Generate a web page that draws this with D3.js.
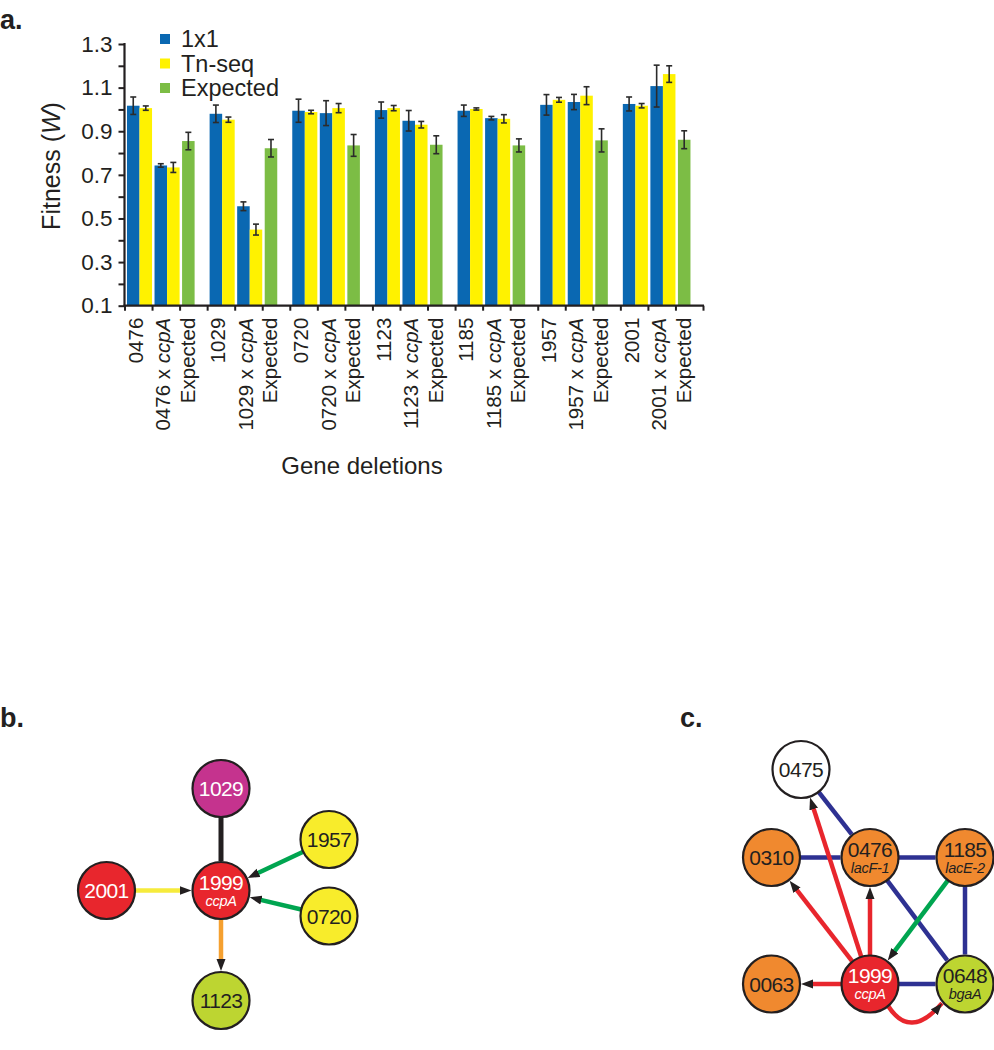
<!DOCTYPE html>
<html>
<head>
<meta charset="utf-8">
<script src="https://cdn.jsdelivr.net/npm/d3@7"></script>
<style>
  html, body { margin: 0; padding: 0; background: #fff; }
  svg { display: block; }
  text { font-family: "Liberation Sans", Arial, Helvetica, sans-serif; fill: #231f20; }
</style>
</head>
<body>
<svg id="chart" width="994" height="1050"></svg>
<script>
// ---------------- DATA ----------------
const genes = ["0476", "1029", "0720", "1123", "1185", "1957", "2001"];
const seriesNames = ["1x1", "Tn-seq", "Expected"];
const yTickLabels = ["0.1", "0.3", "0.5", "0.7", "0.9", "1.1", "1.3"];

const single1x1    = [1.017, 0.980, 0.994, 0.997, 0.994, 1.021, 1.025];
const single1x1Err = [0.040, 0.040, 0.053, 0.037, 0.026, 0.047, 0.032];
const singleTn     = [1.006, 0.953, 0.988, 1.006, 1.002, 1.044, 1.017];
const singleTnErr  = [0.010, 0.012, 0.008, 0.012, 0.005, 0.011, 0.010];
const double1x1    = [0.743, 0.556, 0.983, 0.948, 0.960, 1.034, 1.107];
const double1x1Err = [0.008, 0.020, 0.057, 0.047, 0.008, 0.035, 0.096];
const doubleTn     = [0.734, 0.449, 1.006, 0.930, 0.957, 1.063, 1.162];
const doubleTnErr  = [0.023, 0.025, 0.021, 0.015, 0.019, 0.041, 0.038];
const expected     = [0.855, 0.822, 0.835, 0.838, 0.835, 0.858, 0.861];
const expectedErr  = [0.040, 0.040, 0.050, 0.041, 0.030, 0.053, 0.041];

// network b
const nodesB = [
  {id: "1029", gene: "", type: "magenta"},
  {id: "1999", gene: "ccpA", type: "red"},
  {id: "2001", gene: "", type: "red"},
  {id: "1957", gene: "", type: "yellow"},
  {id: "0720", gene: "", type: "yellow"},
  {id: "1123", gene: "", type: "lime"}
];
const edgesB = [
  {s: "1029", t: "1999", type: "black", arrow: false},
  {s: "2001", t: "1999", type: "yellow", arrow: true},
  {s: "1957", t: "1999", type: "green", arrow: true},
  {s: "0720", t: "1999", type: "green", arrow: true},
  {s: "1999", t: "1123", type: "orange", arrow: true}
];
// network c
const nodesC = [
  {id: "0475", gene: "", type: "white"},
  {id: "0310", gene: "", type: "orange"},
  {id: "0476", gene: "lacF-1", type: "orange"},
  {id: "1185", gene: "lacE-2", type: "orange"},
  {id: "0063", gene: "", type: "orange"},
  {id: "1999", gene: "ccpA", type: "red"},
  {id: "0648", gene: "bgaA", type: "lime"}
];
const edgesC = [
  {s: "0475", t: "0476", type: "blue", arrow: false},
  {s: "0310", t: "0476", type: "blue", arrow: false},
  {s: "0476", t: "1185", type: "blue", arrow: false},
  {s: "0476", t: "0648", type: "blue", arrow: false},
  {s: "1185", t: "0648", type: "blue", arrow: false},
  {s: "1999", t: "0648", type: "blue", arrow: false},
  {s: "1999", t: "0475", type: "red", arrow: true},
  {s: "1999", t: "0310", type: "red", arrow: true},
  {s: "1999", t: "0476", type: "red", arrow: true},
  {s: "1999", t: "0063", type: "red", arrow: true},
  {s: "1185", t: "1999", type: "green", arrow: true},
  {s: "1999", t: "0648", type: "red", arrow: true, curved: true}
];

// ---------------- STYLES / LAYOUT ----------------
const FONT = '"Liberation Sans", Arial, Helvetica, sans-serif';
const INK = "#231f20";
const barColors = {"1x1": "#0a68b2", "Tn-seq": "#fff200", "Expected": "#7cbd45"};
const nodeFill = {magenta: "#c5338e", red: "#e8262d", yellow: "#f8ec2b", lime: "#bdd531",
                  orange: "#f0892f", white: "#ffffff"};
const nodeText = {magenta: "#fff", red: "#fff", yellow: INK, lime: INK, orange: INK, white: INK};
const edgeColor = {black: "#231f20", yellow: "#f6eb3c", green: "#00a550", orange: "#f5a030",
                   blue: "#2e3192", red: "#e8262d"};

const svg = d3.select("#chart");

// ---------------- PANEL A ----------------
const cats = [];
genes.forEach((g, i) => {
  cats.push({key: g + "_s", label: g, kind: "single", gi: i});
  cats.push({key: g + "_d", label: g, kind: "double", gi: i});
  cats.push({key: g + "_e", label: "Expected", kind: "expected", gi: i});
});

const x = d3.scaleBand().domain(cats.map(c => c.key)).range([124.5, 703]).padding(0);
const y = d3.scaleLinear().domain([0.1, 1.3]).range([305.7, 44]);
const bw = x.bandwidth();

const gA = svg.append("g");

const bars = [];
cats.forEach(c => {
  const i = c.gi;
  if (c.kind === "single") {
    bars.push({c, s: "1x1", v: single1x1[i], e: single1x1Err[i], off: 0.09});
    bars.push({c, s: "Tn-seq", v: singleTn[i], e: singleTnErr[i], off: 0.545});
  } else if (c.kind === "double") {
    bars.push({c, s: "1x1", v: double1x1[i], e: double1x1Err[i], off: 0.09});
    bars.push({c, s: "Tn-seq", v: doubleTn[i], e: doubleTnErr[i], off: 0.545});
  } else {
    bars.push({c, s: "Expected", v: expected[i], e: expectedErr[i], off: 0.09});
  }
});
const barW = bw * 0.455;
gA.selectAll("rect.bar").data(bars).join("rect")
  .attr("class", "bar")
  .attr("x", d => x(d.c.key) + bw * d.off)
  .attr("width", barW)
  .attr("y", d => y(d.v))
  .attr("height", d => y(0.1) - y(d.v))
  .attr("fill", d => barColors[d.s]);

// error bars
const eg = gA.selectAll("g.err").data(bars).join("g").attr("class", "err")
  .attr("stroke", "#2b2b2b").attr("stroke-width", 1.6);
const cx = d => x(d.c.key) + bw * d.off + barW / 2;
eg.append("line").attr("x1", cx).attr("x2", cx)
  .attr("y1", d => y(d.v - d.e)).attr("y2", d => y(d.v + d.e));
eg.append("line").attr("x1", d => cx(d) - 3).attr("x2", d => cx(d) + 3)
  .attr("y1", d => y(d.v + d.e)).attr("y2", d => y(d.v + d.e));
eg.append("line").attr("x1", d => cx(d) - 3).attr("x2", d => cx(d) + 3)
  .attr("y1", d => y(d.v - d.e)).attr("y2", d => y(d.v - d.e));

// y axis
const yTicks = d3.range(1, 14).map(k => k / 10);
const yAxis = d3.axisLeft(y).tickValues(yTicks).tickSize(6).tickPadding(6)
  .tickFormat(v => { const s = d3.format(".1f")(v); return yTickLabels.includes(s) ? s : ""; });
const gy = gA.append("g").attr("transform", "translate(124.5,0)").call(yAxis);
gy.select(".domain").attr("stroke", INK).attr("stroke-width", 2.2).attr("d", `M0,${y(1.3) - 1}V${y(0.1)}`);
gy.selectAll(".tick line").attr("stroke", INK).attr("stroke-width", 2);
gy.selectAll(".tick text").attr("font-size", 22.5).attr("font-family", FONT).attr("fill", INK);

// x axis
const xScaleLin = d3.scaleLinear().domain([0, cats.length]).range(x.range());
const xAxis = d3.axisBottom(xScaleLin).tickValues(d3.range(0, cats.length + 1)).tickSize(5).tickFormat("");
const gx = gA.append("g").attr("transform", `translate(0,${y(0.1)})`).call(xAxis);
gx.select(".domain").attr("stroke", INK).attr("stroke-width", 2.2).attr("d", `M${x.range()[0] - 1},0H${x.range()[1] + 1}`);
gx.selectAll(".tick line").attr("stroke", INK).attr("stroke-width", 2);

// x labels
const xl = gA.selectAll("text.xl").data(cats).join("text").attr("class", "xl")
  .attr("transform", c => `translate(${x(c.key) + (c.kind === "expected" ? 8 : 11)},${y(0.1) + 12}) rotate(-90)`)
  .attr("text-anchor", "end").attr("dy", "0.35em")
  .attr("font-size", 20.5);
xl.each(function(c) {
  const t = d3.select(this);
  if (c.kind === "double") {
    t.append("tspan").text(c.label + " x ");
    t.append("tspan").attr("font-style", "italic").text("ccpA");
  } else {
    t.text(c.label);
  }
});

// axis titles
const yt = gA.append("text").attr("transform", "translate(60,166) rotate(-90)")
  .attr("text-anchor", "middle").attr("font-size", 25);
yt.append("tspan").text("Fitness (");
yt.append("tspan").attr("font-style", "italic").text("W");
yt.append("tspan").text(")");
gA.append("text").attr("x", 362).attr("y", 474).attr("text-anchor", "middle")
  .attr("font-size", 24).text("Gene deletions");

// legend
const lg = gA.selectAll("g.leg").data(seriesNames).join("g").attr("class", "leg")
  .attr("transform", (d, i) => `translate(160,${34 + i * 24.5})`);
lg.append("rect").attr("width", 10).attr("height", 10).attr("fill", d => barColors[d]);
lg.append("text").attr("x", 21).attr("y", 5).attr("dy", "0.36em").attr("font-size", 23.5).text(d => d);

// panel labels
svg.append("text").attr("x", 0).attr("y", 29).attr("font-size", 27).attr("font-weight", "bold").text("a.");
svg.append("text").attr("x", 0).attr("y", 727).attr("font-size", 27).attr("font-weight", "bold").text("b.");
svg.append("text").attr("x", 680).attr("y", 727).attr("font-size", 27).attr("font-weight", "bold").text("c.");

// ---------------- NETWORKS ----------------
const R = 28.5;
const defs = svg.append("defs");
defs.append("marker").attr("id", "arr").attr("markerUnits", "userSpaceOnUse")
  .attr("viewBox", "0 -5 12 10").attr("refX", 12).attr("refY", 0)
  .attr("markerWidth", 12).attr("markerHeight", 10).attr("orient", "auto")
  .append("path").attr("d", "M0,-4.5L12,0L0,4.5Z").attr("fill", INK);

function drawNetwork(nodes, edges, pos) {
  const g = svg.append("g");
  const P = id => pos[id];
  edges.forEach(e => {
    const a = P(e.s), b = P(e.t);
    const dx = b[0] - a[0], dy = b[1] - a[1], L = Math.hypot(dx, dy);
    const ux = dx / L, uy = dy / L;
    if (e.curved) {
      const sx = a[0] + R * Math.cos(Math.PI * 0.28), sy = a[1] + R * Math.sin(Math.PI * 0.28);
      const tx = b[0] - R * Math.cos(Math.PI * 0.22) - 1, ty = b[1] + R * Math.sin(Math.PI * 0.22) + 1;
      const path = d3.path();
      path.moveTo(sx, sy);
      path.bezierCurveTo(sx + 14, sy + 22, tx - 22, ty + 26, tx, ty);
      g.append("path").attr("d", path.toString()).attr("fill", "none")
        .attr("stroke", edgeColor[e.type]).attr("stroke-width", 4.5)
        .attr("marker-end", "url(#arr)");
      return;
    }
    const x1 = a[0] + ux * R, y1 = a[1] + uy * R;
    const x2 = b[0] - ux * (R + 1), y2 = b[1] - uy * (R + 1);
    g.append("line").attr("x1", x1).attr("y1", y1)
      .attr("x2", e.arrow ? x2 - ux * 9 : x2).attr("y2", e.arrow ? y2 - uy * 9 : y2)
      .attr("stroke", edgeColor[e.type]).attr("stroke-width", e.type === "black" ? 5 : 4.5);
    if (e.arrow) {
      g.append("line").attr("x1", x2 - ux * 12).attr("y1", y2 - uy * 12)
        .attr("x2", x2).attr("y2", y2).attr("stroke", "none")
        .attr("marker-end", "url(#arr)");
    }
  });
  const ng = g.selectAll("g.node").data(nodes).join("g")
    .attr("transform", d => `translate(${P(d.id)[0]},${P(d.id)[1]})`);
  ng.append("circle").attr("r", R).attr("fill", d => nodeFill[d.type])
    .attr("stroke", INK).attr("stroke-width", 2.2);
  ng.append("text").attr("text-anchor", "middle")
    .attr("y", d => d.gene ? -1 : 7.5)
    .attr("font-size", 21).attr("letter-spacing", -0.6)
    .style("fill", d => nodeText[d.type])
    .text(d => d.id);
  ng.filter(d => d.gene).append("text").attr("text-anchor", "middle")
    .attr("y", 15).attr("font-size", 14.5).attr("font-style", "italic")
    .attr("letter-spacing", -0.3)
    .style("fill", d => nodeText[d.type]).text(d => d.gene);
}

const layoutB = {"1029": [221, 788.5], "1999": [221, 890.5], "2001": [106.5, 890.5],
                 "1957": [329, 839.5], "0720": [329, 916], "1123": [221, 1000.5]};
const layoutC = {"0475": [801, 769.5], "0310": [771.5, 857.5], "0476": [870, 857.5],
                 "1185": [965, 857.5], "0063": [771.5, 984], "1999": [870, 984], "0648": [965, 984]};
drawNetwork(nodesB, edgesB, layoutB);
drawNetwork(nodesC, edgesC, layoutC);
</script>
</body>
</html>
